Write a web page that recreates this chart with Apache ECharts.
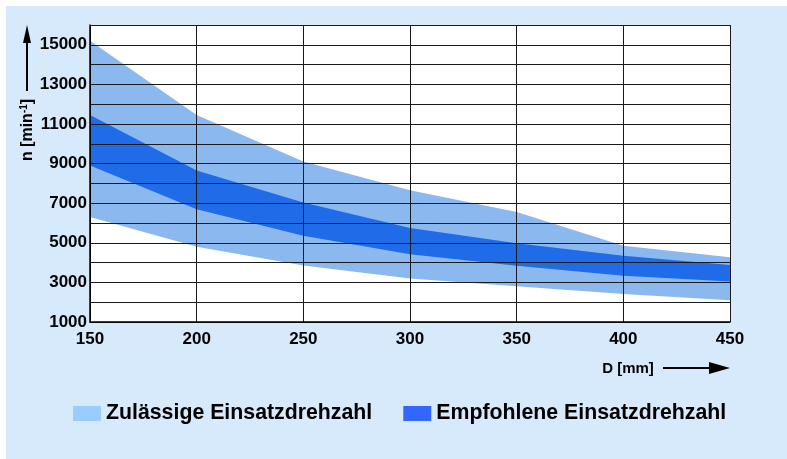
<!DOCTYPE html>
<html>
<head>
<meta charset="utf-8">
<script src="https://cdn.jsdelivr.net/npm/echarts@6/dist/echarts.min.js"></script>
<style>
html,body{margin:0;padding:0;background:#ffffff;}
#main{width:787px;height:459px;}
</style>
</head>
<body>
<div id="main"></div>
<script>
// Data
var diameters = [150, 200, 250, 300, 350, 400, 450];
var permUpper = [15200, 11450, 9100, 7650, 6550, 4850, 4270];
var permLower = [6300, 4800, 3850, 3200, 2800, 2420, 2100];
var recUpper = [11450, 8650, 7030, 5750, 4980, 4340, 3880];
var recLower = [8900, 6700, 5350, 4420, 3840, 3330, 3040];
var yTicks = [1000, 3000, 5000, 7000, 9000, 11000, 13000, 15000];
var xTicks = [150, 200, 250, 300, 350, 400, 450];
var seriesNames = ['Zulässige Einsatzdrehzahl', 'Empfohlene Einsatzdrehzahl'];

var bandLight = '#8ab8ef';
var bandDark = '#206be8';
var legendLight = '#99ccff';
var legendDark = '#3366ff';
var font = '"Liberation Sans", Arial, Helvetica, sans-serif';

function bandRows(xs, lo, up) { return xs.map(function (x, i) { return [x, lo[i], up[i]]; }); }

function bandRenderer(color) {
  return function (params, api) {
    if (params.dataIndex !== 0) return null;
    var n = params.dataInsideLength;
    var upperPts = [], lowerPts = [];
    for (var i = 0; i < n; i++) {
      var x = api.value(0, i);
      upperPts.push(api.coord([x, api.value(2, i)]));
      lowerPts.push(api.coord([x, api.value(1, i)]));
    }
    var pts = upperPts.concat(lowerPts.reverse());
    return {type: 'polygon', shape: {points: pts}, style: {fill: color}};
  };
}

var chart = echarts.init(document.getElementById('main'), null, {renderer: 'canvas'});
var option = {
  backgroundColor: '#ffffff',
  animation: false,
  graphic: [
    {type: 'rect', z: -10, shape: {x: 6, y: 6, width: 781, height: 453}, style: {fill: '#d7eafc'}},
    {type: 'rect', z: -9, shape: {x: 90, y: 25, width: 640, height: 297}, style: {fill: '#ffffff'}},
    // y-axis name with arrow
    {type: 'line', shape: {x1: 27, y1: 40, x2: 27, y2: 91}, style: {stroke: '#000', lineWidth: 2}},
    {type: 'polygon', shape: {points: [[27, 25], [23, 43], [31, 43]]}, style: {fill: '#000'}},
    {type: 'text', x: 28, y: 130, rotation: Math.PI / 2,
      style: {text: 'n [min{sup|-1}]', font: 'bold 16px ' + font, fill: '#000', align: 'center', verticalAlign: 'middle',
        rich: {sup: {font: 'bold 10px ' + font, fill: '#000', verticalAlign: 'top', padding: [0, 0, 7, 0]}}}},
    // x-axis name with arrow
    {type: 'text', x: 628, y: 369,
      style: {text: 'D [mm]', font: 'bold 15px ' + font, fill: '#000', align: 'center', verticalAlign: 'middle'}},
    {type: 'line', shape: {x1: 663, y1: 368, x2: 712, y2: 368}, style: {stroke: '#000', lineWidth: 2}},
    {type: 'polygon', shape: {points: [[730, 368], [709, 362], [709, 374]]}, style: {fill: '#000'}}
  ],
  legend: {
    top: 398,
    left: 68,
    itemWidth: 28,
    itemHeight: 15,
    itemGap: 31,
    icon: 'rect',
    textStyle: {fontFamily: font, fontWeight: 'bold', fontSize: 21.3, color: '#000', padding: [0, 0, 0, 0]},
    data: [
      {name: seriesNames[0], itemStyle: {color: legendLight}},
      {name: seriesNames[1], itemStyle: {color: legendDark}}
    ]
  },
  grid: {left: 90, right: 57, top: 25, bottom: 137, containLabel: false},
  xAxis: {
    type: 'value', min: 150, max: 450, interval: 50, z: 10,
    axisLine: {show: true, onZero: false, lineStyle: {color: '#000', width: 1.5}},
    axisTick: {show: false},
    axisLabel: {color: '#000', fontFamily: font, fontWeight: 'bold', fontSize: 17, margin: 9,
      formatter: function (v) { return xTicks.indexOf(v) >= 0 ? String(v) : ''; }},
    splitLine: {show: true, lineStyle: {color: '#1a1a1a', width: 1}}
  },
  yAxis: {
    type: 'value', min: 1000, max: 16000, interval: 1000, z: 10,
    axisLine: {show: true, onZero: false, lineStyle: {color: '#000', width: 1.5}},
    axisTick: {show: false},
    axisLabel: {color: '#000', fontFamily: font, fontWeight: 'bold', fontSize: 17, margin: 3,
      formatter: function (v) { return yTicks.indexOf(v) >= 0 ? String(v) : ''; }},
    splitLine: {show: true, lineStyle: {color: '#1a1a1a', width: 1}}
  },
  series: [
    {name: seriesNames[0], type: 'custom', data: bandRows(diameters, permLower, permUpper),
      encode: {x: 0, y: [1, 2]}, renderItem: bandRenderer(bandLight), itemStyle: {color: legendLight}, z: 1, clip: true},
    {name: seriesNames[1], type: 'custom', data: bandRows(diameters, recLower, recUpper),
      encode: {x: 0, y: [1, 2]}, renderItem: bandRenderer(bandDark), itemStyle: {color: legendDark}, z: 2, clip: true}
  ]
};
chart.setOption(option);
</script>
</body>
</html>
